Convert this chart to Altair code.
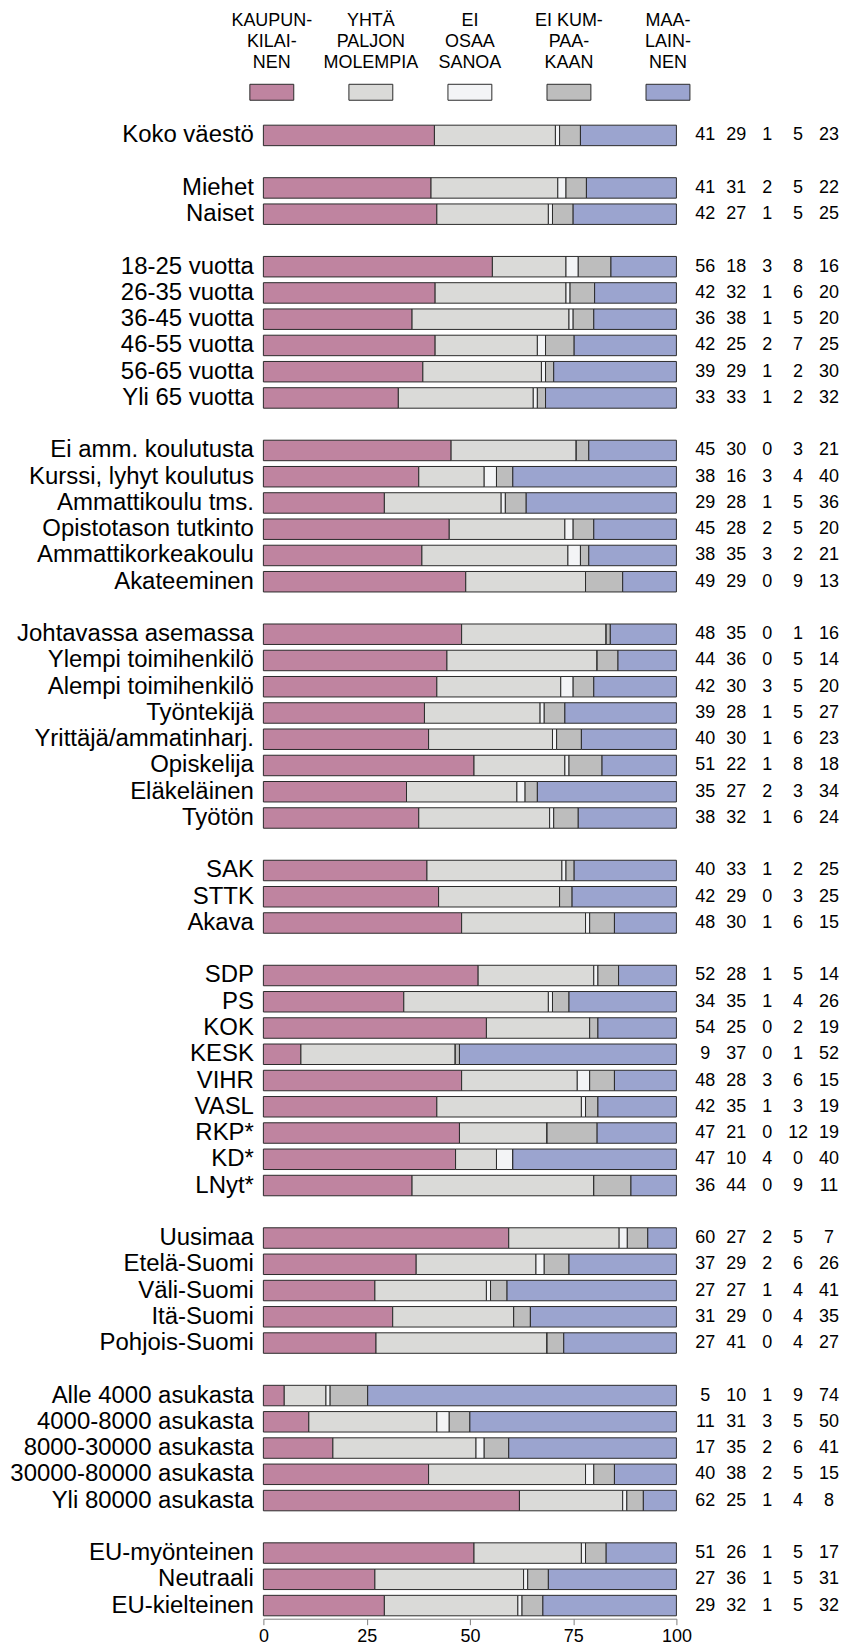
import altair as alt
import pandas as pd

FONT = "Liberation Sans"

categories = [
    "Koko väestö",
    "Miehet", "Naiset",
    "18-25 vuotta", "26-35 vuotta", "36-45 vuotta", "46-55 vuotta", "56-65 vuotta", "Yli 65 vuotta",
    "Ei amm. koulutusta", "Kurssi, lyhyt koulutus", "Ammattikoulu tms.", "Opistotason tutkinto",
    "Ammattikorkeakoulu", "Akateeminen",
    "Johtavassa asemassa", "Ylempi toimihenkilö", "Alempi toimihenkilö", "Työntekijä",
    "Yrittäjä/ammatinharj.", "Opiskelija", "Eläkeläinen", "Työtön",
    "SAK", "STTK", "Akava",
    "SDP", "PS", "KOK", "KESK", "VIHR", "VASL", "RKP*", "KD*", "LNyt*",
    "Uusimaa", "Etelä-Suomi", "Väli-Suomi", "Itä-Suomi", "Pohjois-Suomi",
    "Alle 4000 asukasta", "4000-8000 asukasta", "8000-30000 asukasta",
    "30000-80000 asukasta", "Yli 80000 asukasta",
    "EU-myönteinen", "Neutraali", "EU-kielteinen",
]
group_sizes = [1, 2, 6, 6, 8, 3, 9, 5, 5, 3]

kaupunkilainen = [41, 41, 42, 56, 42, 36, 42, 39, 33, 45, 38, 29, 45, 38, 49,
                  48, 44, 42, 39, 40, 51, 35, 38, 40, 42, 48,
                  52, 34, 54, 9, 48, 42, 47, 47, 36,
                  60, 37, 27, 31, 27, 5, 11, 17, 40, 62, 51, 27, 29]
yhta_paljon = [29, 31, 27, 18, 32, 38, 25, 29, 33, 30, 16, 28, 28, 35, 29,
               35, 36, 30, 28, 30, 22, 27, 32, 33, 29, 30,
               28, 35, 25, 37, 28, 35, 21, 10, 44,
               27, 29, 27, 29, 41, 10, 31, 35, 38, 25, 26, 36, 32]
ei_osaa = [1, 2, 1, 3, 1, 1, 2, 1, 1, 0, 3, 1, 2, 3, 0,
           0, 0, 3, 1, 1, 1, 2, 1, 1, 0, 1,
           1, 1, 0, 0, 3, 1, 0, 4, 0,
           2, 2, 1, 0, 0, 1, 3, 2, 2, 1, 1, 1, 1]
ei_kumpaakaan = [5, 5, 5, 8, 6, 5, 7, 2, 2, 3, 4, 5, 5, 2, 9,
                 1, 5, 5, 5, 6, 8, 3, 6, 2, 3, 6,
                 5, 4, 2, 1, 6, 3, 12, 0, 9,
                 5, 6, 4, 4, 4, 9, 5, 6, 5, 4, 5, 5, 5]
maalainen = [23, 22, 25, 16, 20, 20, 25, 30, 32, 21, 40, 36, 20, 21, 13,
             16, 14, 20, 27, 23, 18, 34, 24, 25, 25, 15,
             14, 26, 19, 52, 15, 19, 19, 40, 11,
             7, 26, 41, 35, 27, 74, 50, 41, 15, 8, 17, 31, 32]

series_keys = ["Kaupunkilainen", "Yhtä paljon molempia", "Ei osaa sanoa",
               "Ei kumpaakaan", "Maalainen"]
legend_labels = ["KAUPUN-\nKILAI-\nNEN", "YHTÄ\nPALJON\nMOLEMPIA", "EI\nOSAA\nSANOA",
                 "EI KUM-\nPAA-\nKAAN", "MAA-\nLAIN-\nNEN"]
colors = ["#BF84A0", "#DADAD8", "#F3F4F6", "#BDBDBD", "#9BA4CF"]

series_values = [kaupunkilainen, yhta_paljon, ei_osaa, ei_kumpaakaan, maalainen]

# row domain with blank spacer rows between groups
domain = []
idx = 0
for g, n in enumerate(group_sizes):
    if g > 0:
        domain.append(f"_s{g}")
    domain.extend(categories[idx:idx + n])
    idx += n

recs = []
for i, c in enumerate(categories):
    for k, key in enumerate(series_keys):
        recs.append({"cat": c, "series": key, "order": k, "col": k,
                     "value": series_values[k][i]})
df = pd.DataFrame(recs)

W = 414
H = 1500

yscale = alt.Scale(domain=domain, paddingInner=0.22, paddingOuter=0.11)
color_scale = alt.Scale(domain=series_keys, range=colors)

bars = alt.Chart(df).mark_bar(stroke="#2b2b2b", strokeWidth=1).encode(
    x=alt.X("value:Q", stack="normalize",
            scale=alt.Scale(domain=[0, 1], nice=False),
            axis=alt.Axis(values=[0, 0.25, 0.5, 0.75, 1],
                          labelExpr="format(datum.value*100, 'd')",
                          title=None, grid=False, domainColor="#808080",
                          tickColor="#808080", tickSize=6, labelFontSize=18,
                          labelColor="black", labelFont=FONT, labelPadding=3,
                          labelFlush=False)),
    y=alt.Y("cat:N", scale=yscale,
            axis=alt.Axis(title=None, domain=False, ticks=False,
                          labelExpr="indexof(datum.label, '_s') == 0 ? '' : datum.label",
                          labelFontSize=24, labelFont=FONT, labelColor="black",
                          labelPadding=10, labelLimit=600)),
    color=alt.Color("series:N", scale=color_scale, legend=None),
    order=alt.Order("order:Q"),
).properties(width=W, height=H)

nums = alt.Chart(df).mark_text(font=FONT, fontSize=18, color="black").encode(
    x=alt.X("col:O", scale=alt.Scale(type="point", padding=0), axis=None),
    y=alt.Y("cat:N", scale=yscale, axis=None),
    text=alt.Text("value:Q", format="d"),
).properties(width=124, height=H)

leg_df = pd.DataFrame({"series": series_keys, "label": legend_labels})
legx = alt.X("series:N", scale=alt.Scale(type="point", domain=series_keys, padding=0.085),
             axis=None)
leg_text = alt.Chart(leg_df).mark_text(
    font=FONT, fontSize=18, lineBreak="\n", lineHeight=21.3, baseline="top",
    color="black").encode(x=legx, y=alt.value(2), text="label:N")
swatch_path = "M-1,-0.3636L1,-0.3636L1,0.3636L-1,0.3636Z"
leg_sw = alt.Chart(leg_df).mark_point(
    shape=swatch_path, size=1936, filled=True, opacity=1, stroke="#2b2b2b",
    strokeWidth=1).encode(
    x=legx, y=alt.value(82.5),
    color=alt.Color("series:N", scale=color_scale, legend=None))
legend = alt.layer(leg_text, leg_sw).properties(width=W, height=86)

main = alt.hconcat(bars, nums, spacing=29, bounds="flush")
chart = alt.vconcat(legend, main, spacing=26.6, bounds="flush").properties(
    padding={"left": 1, "top": 0, "right": 0, "bottom": 0}
).configure(font=FONT).configure_view(strokeWidth=0, stroke=None)

chart.save("out.html", embed_options={"renderer": "svg", "actions": False})
